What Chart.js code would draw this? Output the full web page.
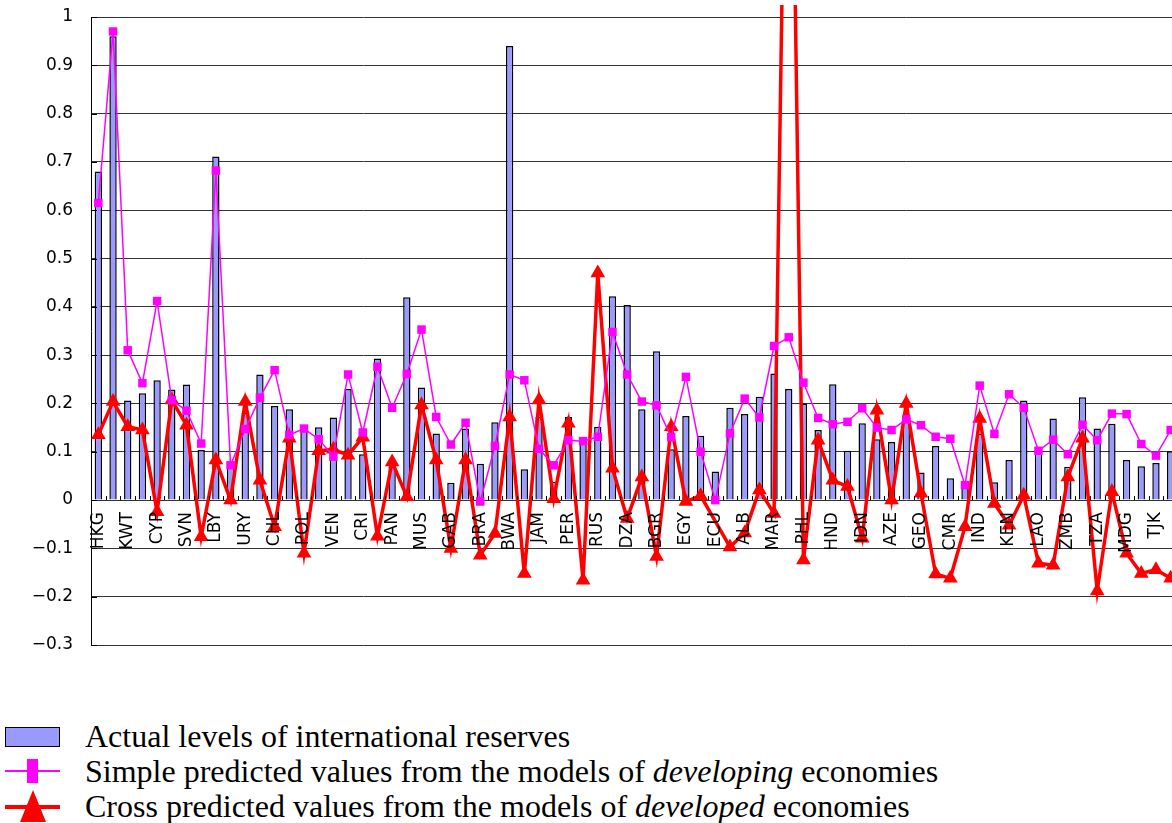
<!DOCTYPE html>
<html>
  <head>
    <title>International reserves: actual vs predicted</title>
    <meta charset="utf-8" />
    <script src="https://cdn.jsdelivr.net/npm/chart.js"></script>
    <style>
      body {
        margin: 0;
        width: 1172px;
        height: 823px;
        overflow: hidden;
        background: #fff;
        position: relative;
      }
      #reservesChart {
        position: absolute;
        left: 0;
        top: 0;
      }
      .legend {
        position: absolute;
        left: 0;
        top: 719px;
        font-family: "Liberation Serif", "Times New Roman", serif;
        font-size: 32px;
        line-height: 35px;
        color: #000;
      }
      .legend .row {
        position: relative;
        height: 35px;
        padding-left: 85px;
        white-space: nowrap;
      }
      .sym {
        position: absolute;
      }
      .bar-sym {
        left: 5px;
        top: 8px;
        width: 53px;
        height: 18px;
        background: #9999ff;
        border: 1.5px solid #000;
      }
      .line-sym {
        left: 5px;
        width: 55px;
      }
      .mag-line {
        top: 16px;
        height: 2px;
        background: #ff00ff;
      }
      .mag-mark {
        left: 27px;
        top: 5px;
        width: 11px;
        height: 24px;
        background: #ff00ff;
      }
      .red-line {
        top: 16px;
        height: 4px;
        background: #ff0000;
      }
      .red-mark {
        left: 20px;
        top: 1px;
        width: 0;
        height: 0;
        border-left: 13px solid transparent;
        border-right: 13px solid transparent;
        border-bottom: 32px solid #ff0000;
      }
    </style>
  </head>
  <body>
    <canvas id="reservesChart" width="1178" height="660"></canvas>
    <div class="legend">
      <div class="row"><span class="sym bar-sym"></span>Actual levels of international reserves</div>
      <div class="row"><span class="sym line-sym mag-line"></span><span class="sym mag-mark"></span>Simple predicted values from the models of <i>developing</i> economies</div>
      <div class="row"><span class="sym line-sym red-line"></span><span class="sym red-mark"></span>Cross predicted values from the models of <i>developed</i> economies</div>
    </div>

    <script>
      // only every other country code is printed on the axis
      var countries = [
        "HKG", "", "KWT", "", "CYP", "", "SVN", "", "LBY", "", "URY", "", "CHL", "", "POL", "", "VEN", "", "CRI", "",
        "PAN", "", "MUS", "", "GAB", "", "BRA", "", "BWA", "", "JAM", "", "PER", "", "RUS", "", "DZA", "", "BGR", "",
        "EGY", "", "ECU", "", "ALB", "", "MAR", "", "PHL", "", "HND", "", "IDN", "", "AZE", "", "GEO", "", "CMR", "",
        "IND", "", "KEN", "", "LAO", "", "ZMB", "", "TZA", "", "MDG", "", "TJK", ""
      ];

      var actual = [
        0.68, 0.96, 0.206, 0.221, 0.248, 0.229, 0.239, 0.104, 0.711, 0.075,
        0.18, 0.26, 0.195, 0.188, 0.145, 0.151, 0.171, 0.23, 0.095, 0.293,
        0.07, 0.42, 0.233, 0.138, 0.036, 0.148, 0.075, 0.161, 0.94, 0.064,
        0.172, 0.038, 0.172, 0.122, 0.152, 0.422, 0.404, 0.188, 0.308, 0.105,
        0.174, 0.133, 0.059, 0.191, 0.178, 0.214, 0.262, 0.23, 0.2, 0.145,
        0.24, 0.102, 0.159, 0.126, 0.12, 0.165, 0.057, 0.112, 0.045, 0.028,
        0.138, 0.037, 0.083, 0.206, 0.104, 0.169, 0.069, 0.213, 0.148, 0.158,
        0.083, 0.07, 0.077, 0.101
      ];

      var simplePredicted = [
        0.615, 0.97, 0.31, 0.242, 0.412, 0.207, 0.185, 0.117, 0.682, 0.072,
        0.147, 0.212, 0.269, 0.135, 0.148, 0.126, 0.09, 0.26, 0.14, 0.276,
        0.191, 0.261, 0.353, 0.172, 0.115, 0.16, -0.003, 0.112, 0.26, 0.248,
        0.106, 0.072, 0.124, 0.122, 0.131, 0.348, 0.26, 0.204, 0.196, 0.13,
        0.255, 0.1, 0.0, 0.138, 0.21, 0.171, 0.319, 0.337, 0.243, 0.17,
        0.157, 0.162, 0.19, 0.15, 0.145, 0.167, 0.155, 0.131, 0.127, 0.031,
        0.237, 0.137, 0.219, 0.191, 0.102, 0.125, 0.095, 0.156, 0.124, 0.179,
        0.178, 0.116, 0.092, 0.145
      ];

      // ECU has no cross prediction; MAR's neighbour runs far off the top
      var crossPredicted = [
        0.135, 0.204, 0.152, 0.145, -0.024, 0.207, 0.155, -0.076, 0.083, 0.0,
        0.204, 0.041, -0.055, 0.128, -0.11, 0.102, 0.105, 0.093, 0.13, -0.075,
        0.079, 0.007, 0.197, 0.083, -0.1, 0.083, -0.114, -0.069, 0.172, -0.152,
        0.207, 0.003, 0.159, -0.166, 0.47, 0.066, -0.038, 0.048, -0.117, 0.152,
        -0.003, 0.009, null, -0.097, -0.068, 0.021, -0.028, 1.95, -0.124, 0.124,
        0.041, 0.028, -0.079, 0.186, 0.0, 0.2, 0.014, -0.153, -0.162, -0.055,
        0.169, -0.007, -0.052, 0.01, -0.131, -0.135, 0.048, 0.128, -0.188, 0.017,
        -0.11, -0.152, -0.144, -0.162
      ];

      var yMin = -0.3;
      var yMax = 1;
      var yStep = 0.1;

      // country codes sit just under the zero line, rotated; short ticks on both axes
      const zeroLineLabels = {
        id: "zeroLineLabels",
        afterDatasetsDraw(chart) {
          const ctx = chart.ctx;
          const x = chart.scales.x;
          const y = chart.scales.y;
          const area = chart.chartArea;
          const y0 = y.getPixelForValue(0);
          const half = (x.getPixelForValue(1) - x.getPixelForValue(0)) / 2;
          ctx.save();
          ctx.strokeStyle = "#000";
          ctx.lineWidth = 1;
          ctx.beginPath();
          for (let i = 0; i <= countries.length; i++) {
            const px = Math.round(x.getPixelForValue(i) - half) + 0.5;
            ctx.moveTo(px, y0);
            ctx.lineTo(px, y0 - 4);
          }
          y.ticks.forEach(function (t) {
            const py = Math.round(y.getPixelForValue(t.value)) + 0.5;
            ctx.moveTo(area.left, py);
            ctx.lineTo(area.left + 6, py);
          });
          ctx.stroke();
          ctx.fillStyle = "#000";
          ctx.font = '17px "DejaVu Sans"';
          ctx.textAlign = "right";
          ctx.textBaseline = "middle";
          countries.forEach(function (name, i) {
            if (!name) return;
            ctx.save();
            ctx.translate(x.getPixelForValue(i), y0 + 12);
            ctx.rotate(-Math.PI / 2);
            ctx.fillText(name, 0, 0);
            ctx.restore();
          });
          ctx.restore();
        },
      };

      new Chart(document.getElementById("reservesChart"), {
        type: "bar",
        data: {
          labels: countries,
          datasets: [
            {
              type: "line",
              label: "Simple predicted values from the models of developing economies",
              data: simplePredicted,
              borderColor: "#ff00ff",
              backgroundColor: "#ff00ff",
              borderWidth: 1.5,
              pointStyle: "rect",
              pointRadius: 6,
              pointBorderWidth: 0,
              tension: 0,
              order: 1,
            },
            {
              type: "line",
              label: "Cross predicted values from the models of developed economies",
              data: crossPredicted,
              borderColor: "#ff0000",
              backgroundColor: "#ff0000",
              borderWidth: 3.5,
              pointStyle: "triangle",
              pointRadius: 8.5,
              pointBorderWidth: 0,
              tension: 0,
              spanGaps: true,
              clip: { left: 5, top: 12, right: 5, bottom: 5 },
              order: 2,
            },
            {
              label: "Actual levels of international reserves",
              data: actual,
              backgroundColor: "#9999ff",
              borderColor: "#000",
              borderWidth: 1.5,
              barPercentage: 0.5,
              categoryPercentage: 1,
              order: 3,
            },
          ],
        },
        options: {
          responsive: false,
          animation: false,
          layout: { autoPadding: false, padding: { top: 17, right: 0, bottom: 15, left: 0 } },
          plugins: {
            legend: { display: false },
            tooltip: { enabled: true },
          },
          scales: {
            x: {
              display: false,
            },
            y: {
              min: yMin,
              max: yMax,
              afterFit: function (scale) {
                scale.width = 91;
              },
              ticks: {
                stepSize: yStep,
                padding: 0,
                color: "#000",
                font: { family: "DejaVu Sans", size: 17 },
                callback: function (v) {
                  const r = Math.round(v * 10) / 10;
                  return String(r).replace("-", "\u2212");
                },
              },
              grid: {
                color: "#333",
                lineWidth: 1,
                drawTicks: true,
                tickLength: 18,
                tickColor: "rgba(0,0,0,0)",
              },
              border: { display: true, color: "#000", width: 1 },
            },
          },
        },
        plugins: [zeroLineLabels],
      });
    </script>
  </body>
</html>
